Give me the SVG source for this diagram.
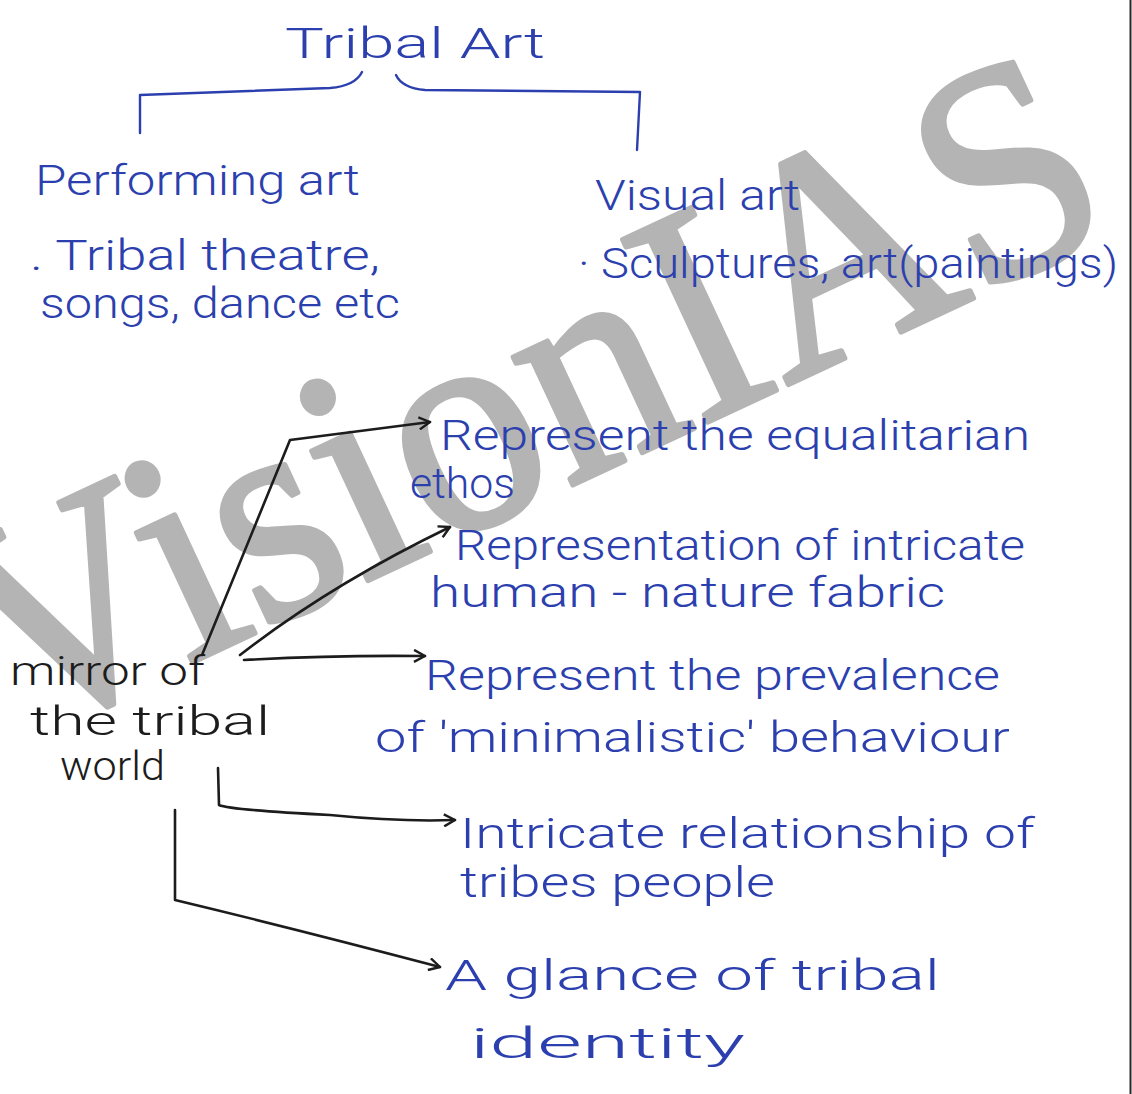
<svg xmlns="http://www.w3.org/2000/svg" width="1132" height="1094" viewBox="0 0 1132 1094">
<defs>
<style>
.b{fill:#2c3fae;font-family:"Roboto","Liberation Sans","DejaVu Sans",sans-serif;font-weight:300;font-size:42px}
.k{fill:#1c1c1c;font-family:"Roboto","Liberation Sans","DejaVu Sans",sans-serif;font-weight:300;font-size:40px}
.ln{fill:none;stroke:#2c3fae;stroke-width:2.4;stroke-linecap:round;stroke-linejoin:round}
.c{fill:none;stroke:#1c1c1c;stroke-width:2.6;stroke-linecap:round;stroke-linejoin:round}
.wm{fill:#b4b4b4;stroke:#b4b4b4;stroke-width:5;stroke-linejoin:round;font-family:"Liberation Serif","DejaVu Serif",serif;font-size:290px}
</style>
<marker id="ah" viewBox="0 0 14 14" refX="12" refY="7" markerWidth="14" markerHeight="14" markerUnits="userSpaceOnUse" orient="auto">
<path d="M1,1 L12,7 L1,13" fill="none" stroke="#1c1c1c" stroke-width="2.4" stroke-linejoin="round"/>
</marker>
</defs>
<rect width="1132" height="1094" fill="#ffffff"/>
<g id="watermark">
<text class="wm" transform="translate(13,746) rotate(-25) scale(1,1.06)">VisionIAS</text>
</g>
<line x1="1130.5" y1="0" x2="1130.5" y2="1094" stroke="#2a2a2a" stroke-width="2"/>
<g id="title">
<text class="b" x="285" y="58" font-size="50" textLength="260" lengthAdjust="spacingAndGlyphs">Tribal Art</text>
</g>
<g id="bracket">
<path class="ln" d="M140,133 L140,95 L330,88 Q355,86 362,72"/>
<path class="ln" d="M396,75 Q402,88 425,90 L640,92 L637,150"/>
</g>
<g id="performing">
<text class="b" x="35" y="195" font-size="44" textLength="325" lengthAdjust="spacingAndGlyphs">Performing art</text>
<text class="b" x="30" y="270" font-size="44" textLength="350" lengthAdjust="spacingAndGlyphs">. Tribal theatre,</text>
<text class="b" x="40" y="318" font-size="44" textLength="360" lengthAdjust="spacingAndGlyphs">songs, dance etc</text>
</g>
<g id="visual">
<text class="b" x="595" y="210" font-size="44" textLength="205" lengthAdjust="spacingAndGlyphs">Visual art</text>
<text class="b" x="578" y="278" font-size="44" textLength="540" lengthAdjust="spacingAndGlyphs">· Sculptures, art(paintings)</text>
</g>
<g id="mirror">
<text class="k" x="10" y="685" textLength="195" lengthAdjust="spacingAndGlyphs">mirror of</text>
<text class="k" x="30" y="735" textLength="240" lengthAdjust="spacingAndGlyphs">the tribal</text>
<text class="k" x="60" y="780" textLength="105" lengthAdjust="spacingAndGlyphs">world</text>
</g>
<g id="n1">
<text class="b" x="440" y="450" textLength="590" lengthAdjust="spacingAndGlyphs">Represent the equalitarian</text>
<text class="b" x="410" y="498" textLength="105" lengthAdjust="spacingAndGlyphs">ethos</text>
</g>
<g id="n2">
<text class="b" x="455" y="560" textLength="570" lengthAdjust="spacingAndGlyphs">Representation of intricate</text>
<text class="b" x="430" y="607" textLength="515" lengthAdjust="spacingAndGlyphs">human - nature fabric</text>
</g>
<g id="n3">
<text class="b" x="425" y="690" textLength="575" lengthAdjust="spacingAndGlyphs">Represent the prevalence</text>
<text class="b" x="375" y="752" textLength="635" lengthAdjust="spacingAndGlyphs">of 'minimalistic' behaviour</text>
</g>
<g id="n4">
<text class="b" x="460" y="848" textLength="575" lengthAdjust="spacingAndGlyphs">Intricate relationship of</text>
<text class="b" x="460" y="897" textLength="315" lengthAdjust="spacingAndGlyphs">tribes people</text>
</g>
<g id="n5">
<text class="b" x="445" y="990" textLength="495" lengthAdjust="spacingAndGlyphs">A glance of tribal</text>
<text class="b" x="470" y="1058" textLength="275" lengthAdjust="spacingAndGlyphs">identity</text>
</g>
<g id="connectors">
<path class="c" d="M202,655 L290,440 L430,422" marker-end="url(#ah)"/>
<path class="c" d="M240,655 Q330,585 450,527" marker-end="url(#ah)"/>
<path class="c" d="M244,660 Q330,655 425,656" marker-end="url(#ah)"/>
<path class="c" d="M218,768 L219,805 Q230,810 330,815 Q400,822 455,820" marker-end="url(#ah)"/>
<path class="c" d="M175,810 L175,900 Q300,930 440,967" marker-end="url(#ah)"/>
</g>
</svg>
